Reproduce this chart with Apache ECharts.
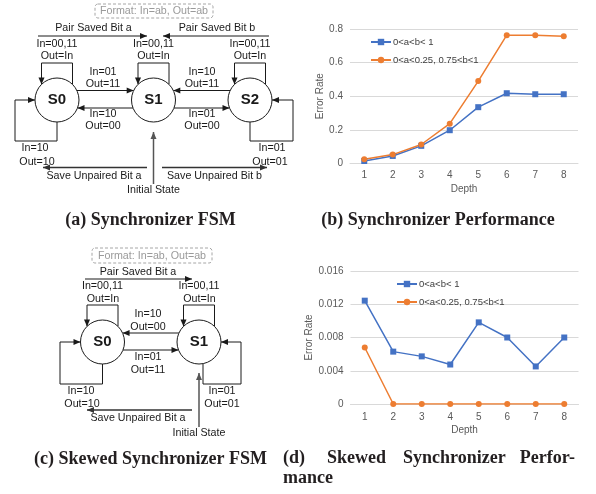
<!DOCTYPE html>
<html><head><meta charset="utf-8">
<script src="https://cdn.jsdelivr.net/npm/echarts@6/dist/echarts.min.js"></script>
<style>html,body{margin:0;padding:0;background:#fff}#c{width:596px;height:494px}</style>
</head><body><div id="c"></div>
<script>
// ---------- data ----------
const depth = ['1','2','3','4','5','6','7','8'];
const seriesNames = ['0<a<b< 1', '0<a<0.25, 0.75<b<1'];
const syncUniform = [0.015, 0.045, 0.105, 0.198, 0.335, 0.418, 0.412, 0.412];
const syncSkewed  = [0.025, 0.053, 0.113, 0.237, 0.490, 0.763, 0.763, 0.757];
const skewUniform = [0.01243, 0.0063, 0.00573, 0.00475, 0.00982, 0.0080, 0.00452, 0.0080];
const skewSkewed  = [0.0068, 0, 0, 0, 0, 0, 0, 0];
const syncYTicks = [0, 0.2, 0.4, 0.6, 0.8];
const skewYTicks = [0, 0.004, 0.008, 0.012, 0.016];
const captions = ['(a) Synchronizer FSM', '(b) Synchronizer Performance', '(c) Skewed Synchronizer FSM'];
const captionD = ['(d)', 'Skewed', 'Synchronizer', 'Perfor-', 'mance'];

// ---------- diagram helpers ----------
const INK = '#1a1a1a';
const SANS = '"Liberation Sans", Arial, sans-serif';
const G = [];
function txt(s, x, y, o) {
  G.push({type:'text', x:x, y:y, silent:true, z:10,
    style:Object.assign({text:s, font:'10.7px ' + SANS, fill:INK, align:'center', verticalAlign:'middle'}, o||{})});
}
function path(pts, arrow, o) {
  const st = Object.assign({stroke:INK, lineWidth:1, fill:null}, o||{});
  G.push({type:'polyline', silent:true, shape:{points:pts}, style:st});
  if (arrow) {
    const n = pts.length, a = pts[n-1], b = pts[n-2];
    const dx = a[0]-b[0], dy = a[1]-b[1], L = Math.hypot(dx, dy), ux = dx/L, uy = dy/L;
    const len = 7, w = 3;
    G.push({type:'polygon', silent:true, shape:{points:[a,
      [a[0]-ux*len-uy*w, a[1]-uy*len+ux*w],
      [a[0]-ux*len+uy*w, a[1]-uy*len-ux*w]]}, style:{fill:st.stroke}});
  }
}
const R = 22;
function state(name, cx, cy) {
  G.push({type:'circle', silent:true, shape:{cx:cx, cy:cy, r:R}, style:{fill:'#fff', stroke:INK, lineWidth:1}});
  txt(name, cx, cy, {font:'bold 15px ' + SANS});
}
function ex(cx, dy, side) { return cx + side*Math.sqrt(R*R - dy*dy); }
function ey(cy, dx, side) { return cy + side*Math.sqrt(R*R - dx*dx); }
function selfLoop(cx, cy) {
  const off = 15.5, top = cy - 37;
  path([[cx+off, ey(cy, off, -1)], [cx+off, top], [cx-off, top], [cx-off, ey(cy, off, -1)]], true);
}
function formatBox(x, y, w, h) {
  G.push({type:'rect', silent:true, shape:{x:x, y:y, width:w, height:h, r:3},
    style:{fill:null, stroke:'#a6a6a6', lineWidth:1, lineDash:[3,2]}});
  txt('Format: In=ab, Out=ab', x + w/2, y + h/2 + 0.5, {fill:'#9a9a9a'});
}

// ---------- (a) Synchronizer FSM ----------
(function(){
  const cy = 100, s0 = 57, s1 = 153.5, s2 = 250;
  formatBox(95, 4, 118, 14);
  txt('Pair Saved Bit a', 93.5, 28);
  path([[38,36],[147,36]], true);
  txt('Pair Saved Bit b', 217, 28);
  path([[269,36],[163,36]], true);
  [s0, s1, s2].forEach(function(cx){ txt('In=00,11', cx, 44); txt('Out=In', cx, 56); selfLoop(cx, cy); });
  path([[ex(s0,-9.5,1), cy-9.5], [ex(s1,-9.5,-1), cy-9.5]], true);
  txt('In=01', 103, 72); txt('Out=11', 103, 84);
  path([[ex(s1,8,-1), cy+8], [ex(s0,8,1), cy+8]], true);
  txt('In=10', 103, 114); txt('Out=00', 103, 126);
  path([[ex(s2,-9.5,-1), cy-9.5], [ex(s1,-9.5,1), cy-9.5]], true);
  txt('In=10', 202, 72); txt('Out=11', 202, 84);
  path([[ex(s1,8,1), cy+8], [ex(s2,8,-1), cy+8]], true);
  txt('In=01', 202, 114); txt('Out=00', 202, 126);
  path([[s0, cy+R], [s0, 141], [15, 141], [15, cy], [s0-R, cy]], true);
  txt('In=10', 35, 148); txt('Out=10', 37, 162);
  path([[s2, cy+R], [s2, 141], [293, 141], [293, cy], [s2+R, cy]], true);
  txt('In=01', 272, 148); txt('Out=01', 270, 162);
  path([[147,167.5],[43,167.5]], true, {stroke:'#333', lineWidth:1.3});
  txt('Save Unpaired Bit a', 94, 176);
  path([[162,167.5],[267,167.5]], true, {stroke:'#333', lineWidth:1.3});
  txt('Save Unpaired Bit b', 214.5, 176);
  path([[s1,184],[s1,132]], true, {stroke:'#555', lineWidth:1.5});
  txt('Initial State', s1, 190);
  [['S0',s0],['S1',s1],['S2',s2]].forEach(function(p){ state(p[0], p[1], cy); });
})();

// ---------- (c) Skewed Synchronizer FSM ----------
(function(){
  const cy = 342, s0 = 102.5, s1 = 199;
  formatBox(92, 248, 120, 15);
  txt('Pair Saved Bit a', 138, 272);
  path([[85,279],[192,279]], true);
  [s0, s1].forEach(function(cx){ txt('In=00,11', cx, 286); txt('Out=In', cx+0.5, 299); selfLoop(cx, cy); });
  path([[ex(s1,-9,-1), cy-9], [ex(s0,-9,1), cy-9]], true);
  txt('In=10', 148, 314); txt('Out=00', 148, 327);
  path([[ex(s0,8,1), cy+8], [ex(s1,8,-1), cy+8]], true);
  txt('In=01', 148, 357); txt('Out=11', 148, 370);
  path([[s0, cy+R], [s0, 384], [60, 384], [60, cy], [s0-R, cy]], true);
  txt('In=10', 81, 391); txt('Out=10', 82, 404);
  path([[s1+4, ey(cy,4,1)], [s1+4, 384], [241, 384], [241, cy], [s1+R, cy]], true);
  txt('In=01', 222, 391); txt('Out=01', 222, 404);
  path([[192,410],[87,410]], true, {stroke:'#333', lineWidth:1.3});
  txt('Save Unpaired Bit a', 138, 418);
  path([[s1,427],[s1,373]], true, {stroke:'#555', lineWidth:1.5});
  txt('Initial State', s1, 433);
  [['S0',s0],['S1',s1]].forEach(function(p){ state(p[0], p[1], cy); });
})();

// ---------- captions ----------
const SERIF = 'bold 18px "Liberation Serif", "Times New Roman", serif';
txt(captions[0], 150.5, 220, {font:SERIF, fill:'#231f20'});
txt(captions[1], 438, 220, {font:SERIF, fill:'#231f20'});
txt(captions[2], 150.5, 459, {font:SERIF, fill:'#231f20'});
txt(captionD[0], 283, 458, {font:SERIF, fill:'#231f20', align:'left'});
txt(captionD[1], 327, 458, {font:SERIF, fill:'#231f20', align:'left'});
txt(captionD[2], 403, 458, {font:SERIF, fill:'#231f20', align:'left'});
txt(captionD[3], 575, 458, {font:SERIF, fill:'#231f20', align:'right'});
txt(captionD[4], 283, 478, {font:SERIF, fill:'#231f20', align:'left'});

// ---------- charts ----------
const GRAY = '#595959', GRID = '#d9d9d9';
const BLUE = '#4472c4', ORANGE = '#ed7d31';
function xAx(i, nameGap, margin) {
  return {type:'category', gridIndex:i, data:depth, boundaryGap:true,
    axisTick:{show:false}, axisLine:{lineStyle:{color:GRID}},
    axisLabel:{color:GRAY, fontSize:10, margin:margin, fontFamily:SANS},
    name:'Depth', nameLocation:'middle', nameGap:nameGap,
    nameTextStyle:{color:GRAY, fontSize:10, fontFamily:SANS}};
}
function yAx(i, ticks, nameGap, fmt) {
  return {type:'value', gridIndex:i, min:ticks[0], max:ticks[ticks.length-1], interval:ticks[1]-ticks[0],
    axisLine:{show:false}, axisTick:{show:false},
    splitLine:{lineStyle:{color:GRID}},
    axisLabel:{color:GRAY, fontSize:10, margin:7, fontFamily:SANS, formatter:fmt},
    name:'Error Rate', nameLocation:'middle', nameGap:nameGap,
    nameTextStyle:{color:GRAY, fontSize:10, fontFamily:SANS}};
}
function ser(name, data, i, color, symbol) {
  return {type:'line', name:name, data:data, xAxisIndex:i, yAxisIndex:i,
    symbol:symbol, symbolSize:6, showSymbol:true,
    lineStyle:{color:color, width:1.5}, itemStyle:{color:color}, z:3};
}
function leg(left, top) {
  return {orient:'vertical', left:left, top:top, data:seriesNames, itemWidth:20, itemHeight:8, itemGap:8,
    textStyle:{color:'#404040', fontSize:9.5, fontFamily:SANS, padding:[0,0,0,-3]}, selectedMode:false};
}
const option = {
  animation:false,
  textStyle:{fontFamily:SANS},
  grid:[
    {left:350, right:18, top:29, height:134.5},
    {left:350.5, right:17.5, top:271, height:133}
  ],
  xAxis:[xAx(0, 21, 7), xAx(1, 21, 8)],
  yAxis:[
    yAx(0, syncYTicks, 24, function(v){ return v === 0 ? '0' : String(+v.toFixed(1)); }),
    yAx(1, skewYTicks, 34.5, function(v){ return v === 0 ? '0' : v.toFixed(3); })
  ],
  legend:[leg(365, 32), leg(391, 274)],
  series:[
    ser(seriesNames[0], syncUniform, 0, BLUE, 'rect'),
    ser(seriesNames[1], syncSkewed, 0, ORANGE, 'circle'),
    ser(seriesNames[0], skewUniform, 1, BLUE, 'rect'),
    ser(seriesNames[1], skewSkewed, 1, ORANGE, 'circle')
  ],
  graphic:{elements:G}
};
const chart = echarts.init(document.getElementById('c'), null, {renderer:'canvas'});
chart.setOption(option);
</script>
</body></html>
